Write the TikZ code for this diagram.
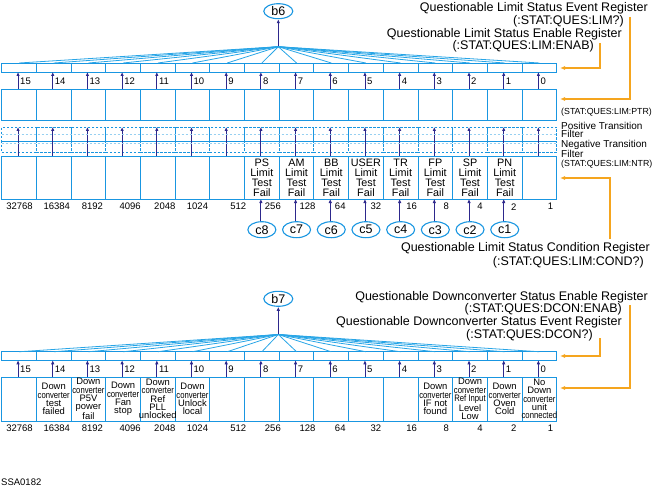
\documentclass[tikz,border=0pt]{standalone}
\usepackage{fontspec}
\setmainfont{Liberation Sans}
\newfontfamily\narrowfont[FakeStretch=0.82]{Liberation Sans}
\usetikzlibrary{arrows.meta,shapes.geometric}

\definecolor{regblue}{RGB}{25,150,225}
\definecolor{fanblue}{RGB}{40,165,230}
\definecolor{bitnavy}{RGB}{45,40,140}
\definecolor{calloutorange}{RGB}{245,165,30}

\newcommand\conv{{\narrowfont converter}}

\begin{document}
\begin{tikzpicture}[x=1pt,y=-1pt,
  cell/.style={draw=regblue,line width=0.9pt,minimum width=34.69pt,inner sep=0pt,outer sep=0pt},
  filt/.style={cell,dash pattern=on 2.5pt off 1.5pt},
  fan/.style={draw=fanblue,line width=0.8pt},
  bitarr/.style={-{Latex[length=4pt,width=3.5pt]},draw=bitnavy,line width=0.9pt},
  callout/.style={-{Latex[length=5pt,width=4pt]},draw=calloutorange,line width=1.1pt},
  bubble/.style={ellipse,draw=regblue,line width=1.1pt,inner sep=0pt,font=\fontsize{12.5}{13}\selectfont},
  biglbl/.style={inner sep=0pt,font=\fontsize{12.5}{13}\selectfont},
  sidelbl/.style={inner sep=0pt,anchor=west,align=left,font=\fontsize{10}{8.5}\selectfont},
  sidecmd/.style={inner sep=0pt,anchor=west,font=\fontsize{8.8}{9}\selectfont},
  bitnum/.style={inner sep=0pt,anchor=west,font=\fontsize{9.5}{10}\selectfont},
  weight/.style={inner sep=0pt,font=\fontsize{9.5}{10}\selectfont},
  celltext/.style={inner sep=0pt,align=center,font=\fontsize{10.8}{10}\selectfont},
  dcntext/.style={inner sep=0pt,align=center,font=\fontsize{9.4}{8.3}\selectfont},
]
\useasboundingbox (0,0) rectangle (652,489);

% ---- questionable limit status ----
\coordinate (apx6) at (278.3,46.7);
\node[bubble,minimum width=29pt,minimum height=15pt] (b6) at (278.3,11.2) {b6};
\draw[bitarr] (apx6) -- (b6);

\foreach \b in {0,...,15}{
  \pgfmathsetmacro\cx{1.7+(15.5-\b)*34.69}
  \node[cell,minimum height=9pt] (ena\b) at (\cx,67.5) {};
  \node[cell,minimum height=31pt] (evt\b) at (\cx,104.5) {};
  \node[filt,minimum height=14pt] (ptr\b) at (\cx,134) {};
  \node[filt,minimum height=11pt] (ntr\b) at (\cx,146.5) {};
  \node[cell,minimum height=43pt] (cnd\b) at (\cx,177.5) {};
  \draw[fan] (apx6) -- (ena\b.north);
  \draw[bitarr] ([xshift=-1pt]evt\b.north) -- ([xshift=-1pt]ena\b.south);
  \node[bitnum] (bnt\b) at (\cx+1,81) {\b};
  \draw[bitarr] ([xshift=-1pt]cnd\b.north) -- ([xshift=-1pt]ptr\b.north);
}
\draw[regblue!45,line width=0.7pt,dash pattern=on 2.5pt off 1.5pt] (ptr15.west |- 0,134.5) -- (ptr0.east |- 0,134.5);
\draw[regblue!45,line width=0.7pt,dash pattern=on 2.5pt off 1.5pt] (ntr15.west |- 0,143.5) -- (ntr0.east |- 0,143.5);

\foreach \b/\t in {8/PS,7/AM,6/BB,5/USER,4/TR,3/FP,2/SP,1/PN}{
  \node[celltext] (lim\b) at (cnd\b) {\t\\Limit\\Test\\Fail};
  \node[bubble,minimum width=28pt,minimum height=16pt] (c\b) at ([yshift=-30.7pt]cnd\b.south) {c\b};
  \draw[bitarr] ([xshift=-1pt]c\b.north) -- ([xshift=-1pt]cnd\b.south);
}

\foreach \b/\w/\o in {15/32768/0.5,14/16384/3,13/8192/4,12/4096/7,11/2048/7,10/1024/5,
    9/512/11,8/256/11,7/128/11,6/64/9,5/32/10,4/16/11,3/8/11,2/4/10,1/2/9,0/1/11}{
  \node[weight] (wt\b) at ([xshift=\o pt,yshift=-7.7pt]cnd\b.south) {\w};
  \node[weight] (wb\b) at ([xshift=\o pt,yshift=-7pt]cnd\b.south |- 0,421) {\w};
}

\node[biglbl,anchor=east] (evtlbl) at (648,8.5) {Questionable Limit Status Event Register};
\node[biglbl,anchor=east] (evtcmd) at (624,21.5) {(:STAT:QUES:LIM?)};
\node[biglbl,anchor=east] (enalbl) at (622,34) {Questionable Limit Status Enable Register};
\node[biglbl,anchor=east] (enacmd) at (594,46.5) {(:STAT:QUES:LIM:ENAB)};
\coordinate (evttap) at (630,17);
\coordinate (evtin) at (560,99);
\coordinate (enatap) at (600,43);
\coordinate (enain) at (560,68);
\draw[callout] (evttap) |- (evtin);
\draw[callout] (enatap) |- (enain);

\node[sidecmd] (ptrcmd) at (561,112.5) {(STAT:QUES:LIM:PTR)};
\node[sidelbl] (ptrlbl) at (561,130) {Positive Transition\\Filter};
\node[sidelbl] (ntrlbl) at (561,149) {Negative Transition\\Filter};
\node[sidecmd] (ntrcmd) at (561,164) {(STAT:QUES:LIM:NTR)};

\node[biglbl,anchor=east] (cndlbl) at (650,248) {Questionable Limit Status Condition Register};
\node[biglbl,anchor=east] (cndcmd) at (644,262) {(:STAT:QUES:LIM:COND?)};
\coordinate (cndtap) at (610,239);
\coordinate (cndin) at (560,178);
\draw[callout] (cndtap) |- (cndin);

% ---- questionable downconverter status ----
\coordinate (apx7) at (278.3,334.5);
\node[bubble,minimum width=29pt,minimum height=15pt] (b7) at (278.3,298.8) {b7};
\draw[bitarr] (apx7) -- (b7);

\foreach \b in {0,...,15}{
  \pgfmathsetmacro\cx{1.7+(15.5-\b)*34.69}
  \node[cell,minimum height=8.5pt] (dena\b) at (\cx,356) {};
  \node[cell,minimum height=44pt] (dcn\b) at (\cx,399) {};
  \draw[fan] (apx7) -- (dena\b.north);
  \draw[bitarr] ([xshift=-1pt]dcn\b.north) -- ([xshift=-1pt]dena\b.south);
  \node[bitnum] (bnb\b) at (\cx+1,369.5) {\b};
}

\foreach \b/\t in {14/{Down\\\conv\\test\\failed},
    13/{Down\\\conv\\P5V\\power\\fail},
    12/{Down\\\conv\\Fan\\stop},
    11/{Down\\\conv\\Ref\\PLL\\unlocked},
    10/{Down\\\conv\\Unlock\\local},
    3/{Down\\\conv\\IF not\\found},
    2/{Down\\\conv\\{\narrowfont Ref Input}\\Level\\Low},
    1/{Down\\\conv\\Oven\\Cold},
    0/{No\\Down\\\conv\\unit\\{\narrowfont connected}}}{
  \node[dcntext] (dtx\b) at (dcn\b) {\t};
}

\node[biglbl,anchor=east] (dlbla) at (648,297) {Questionable Downconverter Status Enable Register};
\node[biglbl,anchor=east] (dcmda) at (622,309.5) {(:STAT:QUES:DCON:ENAB)};
\node[biglbl,anchor=east] (dlblb) at (622,322.5) {Questionable Downconverter Status Event Register};
\node[biglbl,anchor=east] (dcmdb) at (593,335) {(:STAT:QUES:DCON?)};
\coordinate (dtapa) at (630,305);
\coordinate (dina) at (560,388);
\coordinate (dtapb) at (600,338);
\coordinate (dinb) at (560,356);
\draw[callout] (dtapa) |- (dina);
\draw[callout] (dtapb) |- (dinb);

\node[weight,anchor=west] (fig) at (1,482) {SSA0182};
\end{tikzpicture}
\end{document}
